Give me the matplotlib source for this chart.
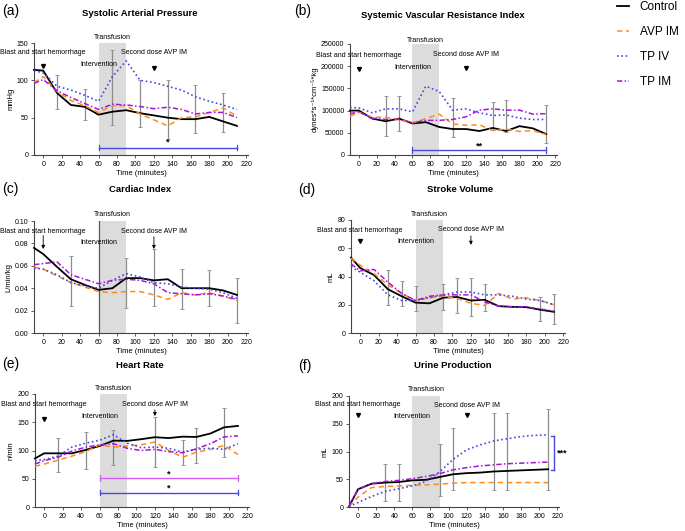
import matplotlib
matplotlib.use('Agg')
import matplotlib.pyplot as plt

plt.rcParams['font.family'] = ['Liberation Sans', 'DejaVu Sans']

W, H = 685, 531
fig = plt.figure(figsize=(W / 100, H / 100), dpi=100)

time = [-10, 0, 15, 30, 45, 60, 75, 90, 105, 120, 135, 150, 165, 180, 195, 210]
series_names = ['Control', 'AVP IM', 'TP IV', 'TP IM']

# (a) Systolic Arterial Pressure (mmHg)
sap_control = [114, 113, 83, 67, 64.5, 54, 58, 60, 56, 53, 50, 48, 48, 51, 45, 39]
sap_avp_im = [97, 105, 85, 73, 66, 57, 66, 66, 55, 47, 39, 50, 51, 57, 63, 52]
sap_tp_iv = [113, 110, 92, 87, 80, 72, 105, 126, 100, 97, 92, 87, 78, 72, 67, 61]
sap_tp_im = [96, 101, 86, 77, 69, 61, 68, 67, 65, 62, 64, 61, 55, 57, 57, 50]
sap_err_t = [15, 45, 75, 105, 135, 165, 195]
sap_err_lo = [62, 47, 40, 38, 22, 29, 31]
sap_err_hi = [107, 88, 141, 100, 101, 94, 83]

# (b) Systemic Vascular Resistance Index
svri_control = [100000, 100000, 82000, 76000, 82000, 71000, 74000, 63000, 58500, 58500, 54000, 61000, 54000, 65000, 60000, 47000]
svri_avp_im = [87000, 96000, 85000, 85000, 80000, 72000, 82000, 92000, 70000, 67000, 68000, 55000, 58000, 53000, 55000, 46000]
svri_tp_iv = [107000, 106000, 95000, 104000, 104000, 97000, 155000, 143000, 101000, 104000, 95000, 89000, 90000, 83000, 80000, 80000]
svri_tp_im = [93000, 97000, 83000, 80000, 80000, 73000, 78000, 78000, 80000, 86000, 101000, 104000, 101000, 101000, 92000, 93000]
svri_err_t = [30, 45, 105, 150, 165, 210]
svri_err_lo = [42000, 53000, 41000, 56000, 52000, 27000]
svri_err_hi = [132000, 134000, 128000, 120000, 124000, 113000]

# (c) Cardiac Index (L/min/kg)
ci_control = [0.076, 0.0705, 0.059, 0.048, 0.043, 0.0385, 0.040, 0.049, 0.049, 0.047, 0.048, 0.040, 0.040, 0.040, 0.038, 0.034]
ci_avp_im = [0.059, 0.057, 0.051, 0.045, 0.041, 0.037, 0.036, 0.037, 0.037, 0.034, 0.030, 0.036, 0.034, 0.036, 0.033, 0.029]
ci_tp_iv = [0.058, 0.057, 0.052, 0.045, 0.042, 0.040, 0.047, 0.053, 0.050, 0.045, 0.044, 0.041, 0.040, 0.039, 0.036, 0.031]
ci_tp_im = [0.061, 0.062, 0.0635, 0.052, 0.048, 0.044, 0.047, 0.048, 0.047, 0.044, 0.036, 0.035, 0.034, 0.035, 0.033, 0.030]
ci_err_t = [30, 90, 120, 150, 180, 210]
ci_err_lo = [0.024, 0.022, 0.024, 0.021, 0.024, 0.009]
ci_err_hi = [0.069, 0.067, 0.075, 0.057, 0.056, 0.049]

# (d) Stroke Volume (mL)
sv_control = [53.4, 46, 41, 31, 26, 21.5, 21, 25, 25.5, 23, 23.5, 19, 18.5, 18.3, 16.5, 15]
sv_avp_im = [53, 48, 42, 34, 28, 23, 25, 26, 24.5, 21, 19.5, 28, 24, 25, 23, 20]
sv_tp_iv = [47, 43, 37, 27, 23, 23, 25, 27, 29, 29, 27, 27, 26, 24, 23, 20]
sv_tp_im = [49, 44, 45, 36, 28, 23, 26, 27, 27, 27, 22, 19, 18.5, 18.5, 17, 15.5]
sv_err_t = [30, 45, 60, 90, 105, 120, 135, 195, 210]
sv_err_lo = [20, 18.8, 15.3, 16.5, 14, 12.3, 15.3, 8.2, 6.2]
sv_err_hi = [44.7, 36.5, 33.4, 35, 38.8, 38.8, 34.6, 25.8, 27.5]

# (e) Heart Rate (n/min)
hr_control = [86, 95, 95, 95, 101, 108, 117.5, 117, 120, 123.5, 122, 124.5, 124, 130, 141, 143.5]
hr_avp_im = [72, 76, 83, 90, 98, 110, 106, 108, 110, 115, 100, 88, 97, 102, 109, 93]
hr_tp_iv = [82, 84, 90, 106, 113, 118, 128, 113, 105, 106, 104, 97, 102, 104, 102, 112]
hr_tp_im = [76, 82, 88, 99, 106, 110, 112, 104, 100, 102, 98, 96, 103, 112, 124, 126]
hr_err_t = [15, 45, 75, 120, 150, 165, 195]
hr_err_lo = [62, 68, 74, 71, 74, 77, 89]
hr_err_hi = [123, 133.5, 136.5, 160, 119, 139.5, 175]

# (f) Urine Production (mL)
up_control = [1, 32, 42, 44, 45, 48, 49, 54, 59, 61, 62, 64, 65, 66, 67, 68]
up_avp_im = [1, 18, 35, 37, 38, 39, 40, 41, 43, 44, 44, 44, 44, 44, 44, 44]
up_tp_iv = [1, 8, 19, 28, 33, 38, 46, 63, 86, 103, 112, 119, 123, 127, 129, 130]
up_tp_im = [1, 32, 42, 46, 48, 51, 55, 60, 67, 71, 74, 76, 78, 79, 80, 81]
up_err_t = [30, 45, 90, 105, 150, 165, 210]
up_err_lo = [10, 10, 19, 31, 31, 31, 31]
up_err_hi = [77, 77, 114, 142, 170, 170, 177]

colors = ['#000000', '#FF8A1C', '#4747E6', '#A516D9']
styles = [dict(ls='-', lw=1.3), dict(ls=(0, (3.5, 2.5)), lw=1.1),
          dict(ls=(0, (1, 1.6)), lw=1.2), dict(ls=(0, (3.5, 1.5, 1, 1.5)), lw=1.1)]

FS_TICK = 5
FS_ANN = 5


def axes_px(left, top, right, bottom):
    return fig.add_axes([left / W, 1 - bottom / H, (right - left) / W, (bottom - top) / H])


def fig_text(px, py, s, **kw):
    fig.text(px / W, 1 - py / H, s, **kw)


def draw(ax, series, err_t, err_lo, err_hi, yticks, ylabel, ytfmt=None):
    ax.axvspan(60, 90, color='#dcdcdc', lw=0, zorder=0)
    mids = [(lo + hi) / 2 for lo, hi in zip(err_lo, err_hi)]
    halves = [(hi - lo) / 2 for lo, hi in zip(err_lo, err_hi)]
    ax.errorbar(err_t, mids, yerr=halves, fmt='none', ecolor='#8c8c8c', elinewidth=0.9,
                capsize=1.2, capthick=0.6, zorder=1)
    for vals, c, st, name in zip(series, colors, styles, series_names):
        ax.plot(time, vals, color=c, label=name, zorder=3, clip_on=False, **st)
    ax.set_xlim(-10, 222)
    ax.set_ylim(yticks[0], yticks[-1])
    ax.set_xticks(range(0, 221, 20))
    ax.set_yticks(yticks)
    if ytfmt:
        ax.set_yticklabels([ytfmt(v) for v in yticks])
    for s in ['top', 'right']:
        ax.spines[s].set_visible(False)
    for s in ['left', 'bottom']:
        ax.spines[s].set_color('#444444')
        ax.spines[s].set_linewidth(0.8)
    ax.tick_params(labelsize=FS_TICK, length=2.5, width=0.6, color='#444444', pad=1.5)
    ax.set_xlabel('Time (minutes)', fontsize=5.5, labelpad=2)
    ax.set_ylabel(ylabel, fontsize=5.5, labelpad=2)


def annotations(ax, y_blast, y_transf, y_interv, y_second):
    kw = dict(fontsize=FS_ANN, ha='center', va='center', clip_on=False, zorder=5)
    ax.text(0, y_blast, 'Blast and start hemorrhage', **kw)
    ax.text(75, y_transf, 'Transfusion', **kw)
    ax.text(60, y_interv, 'Intervention', **kw)
    ax.text(120, y_second, 'Second dose AVP IM', **kw)


def tri(ax, x, y):
    ax.plot([x], [y], marker='v', ms=2.8, color='k', clip_on=False, zorder=5)


def arrow(ax, x, y_tail, y_tip):
    ax.annotate('', xy=(x, y_tip), xytext=(x, y_tail),
                arrowprops=dict(arrowstyle='-|>', lw=0.6, color='k', mutation_scale=5,
                                shrinkA=0, shrinkB=0))


def hbracket(ax, y, color, star, ystar):
    ax.plot([60, 210], [y, y], color=color, lw=1.0, zorder=4)
    dy = (ax.get_ylim()[1] - ax.get_ylim()[0]) * 0.025
    for xx in (60, 210):
        ax.plot([xx, xx], [y - dy, y + dy], color=color, lw=0.9, zorder=4)
    ax.text(135, ystar, star, fontsize=6.5, ha='center', va='center', fontweight='bold')


# ---- (a)
ax_a = axes_px(34, 43, 248, 155)
draw(ax_a, [sap_control, sap_avp_im, sap_tp_iv, sap_tp_im], sap_err_t, sap_err_lo, sap_err_hi,
     [0, 50, 100, 150], 'mmHg')
annotations(ax_a, 137, 157, 121, 137)
tri(ax_a, 0, 119)
tri(ax_a, 120, 117)
hbracket(ax_a, 10, '#4747E6', '*', 17)

# ---- (b)
ax_b = axes_px(350, 44, 557, 155)
draw(ax_b, [svri_control, svri_avp_im, svri_tp_iv, svri_tp_im], svri_err_t, svri_err_lo, svri_err_hi,
     [0, 50000, 100000, 150000, 200000, 250000], 'dynes*s⁻¹*cm⁻⁵*kg',
     ytfmt=lambda v: str(int(v)))
annotations(ax_b, 225000, 259000, 198000, 227000)
tri(ax_b, 0, 193000)
tri(ax_b, 120, 196000)
hbracket(ax_b, 11000, '#4747E6', '**', 20000)

# ---- (c)
ax_c = axes_px(34, 221, 248, 333)
draw(ax_c, [ci_control, ci_avp_im, ci_tp_iv, ci_tp_im], ci_err_t, ci_err_lo, ci_err_hi,
     [0.0, 0.02, 0.04, 0.06, 0.08, 0.10], 'L/min/kg', ytfmt=lambda v: f'{v:.2f}')
ax_c.axvline(60, color='#555555', lw=0.9, zorder=1)
annotations(ax_c, 0.0908, 0.106, 0.081, 0.0908)
arrow(ax_c, 0, 0.087, 0.075)
arrow(ax_c, 120, 0.086, 0.075)

# ---- (d)
ax_d = axes_px(351, 220, 565, 333)
draw(ax_d, [sv_control, sv_avp_im, sv_tp_iv, sv_tp_im], sv_err_t, sv_err_lo, sv_err_hi,
     [0, 20, 40, 60, 80], 'mL')
annotations(ax_d, 72.7, 84, 64.7, 73)
tri(ax_d, 0, 65)
arrow(ax_d, 120, 68.7, 62.4)

# ---- (e)
ax_e = axes_px(35, 394, 249, 507)
draw(ax_e, [hr_control, hr_avp_im, hr_tp_iv, hr_tp_im], hr_err_t, hr_err_lo, hr_err_hi,
     [0, 50, 100, 150, 200], 'n/min')
annotations(ax_e, 182, 209, 161, 182)
tri(ax_e, 0, 156)
arrow(ax_e, 120, 172, 161)
hbracket(ax_e, 51, '#D35FF2', '*', 58)
hbracket(ax_e, 25.5, '#4747E6', '*', 33)

# ---- (f)
ax_f = axes_px(349, 396, 559, 507)
draw(ax_f, [up_control, up_avp_im, up_tp_iv, up_tp_im], up_err_t, up_err_lo, up_err_hi,
     [0, 50, 100, 150, 200], 'mL')
annotations(ax_f, 185, 212, 163, 183)
tri(ax_f, 0, 165)
tri(ax_f, 120, 165)
ax_f.plot([217, 217], [67, 128], color='#4747E6', lw=1.0, clip_on=False)
ax_f.plot([213, 217], [67, 67], color='#4747E6', lw=1.0, clip_on=False)
ax_f.plot([213, 217], [128, 128], color='#4747E6', lw=1.0, clip_on=False)
ax_f.text(220, 97.5, '***', fontsize=6.5, fontweight='bold', ha='left', va='center', clip_on=False)

# ---- titles and panel letters
title_kw = dict(fontsize=6.8, fontweight='bold', ha='center', va='center')
fig_text(140, 14, 'Systolic Arterial Pressure', **title_kw)
fig_text(443, 16, 'Systemic Vascular Resistance Index', **title_kw)
fig_text(140, 190, 'Cardiac Index', **title_kw)
fig_text(460, 190, 'Stroke Volume', **title_kw)
fig_text(140, 365, 'Heart Rate', **title_kw)
fig_text(453, 366, 'Urine Production', **title_kw)

letter_kw = dict(fontsize=10, ha='left', va='center')
fig_text(2, 11, '(a)', **letter_kw)
fig_text(294, 11, '(b)', **letter_kw)
fig_text(2, 189, '(c)', **letter_kw)
fig_text(298, 190, '(d)', **letter_kw)
fig_text(2, 364, '(e)', **letter_kw)
fig_text(298, 366, '(f)', **letter_kw)

handles, labels = ax_a.get_legend_handles_labels()
fig.legend(handles, labels, loc='upper left', bbox_to_anchor=(612 / W, 1 + 4 / H), frameon=False,
           fontsize=8.5, handlelength=1.0, handletextpad=0.95, labelspacing=1.12,
           borderaxespad=0)

fig.savefig('out.png', dpi=100)
